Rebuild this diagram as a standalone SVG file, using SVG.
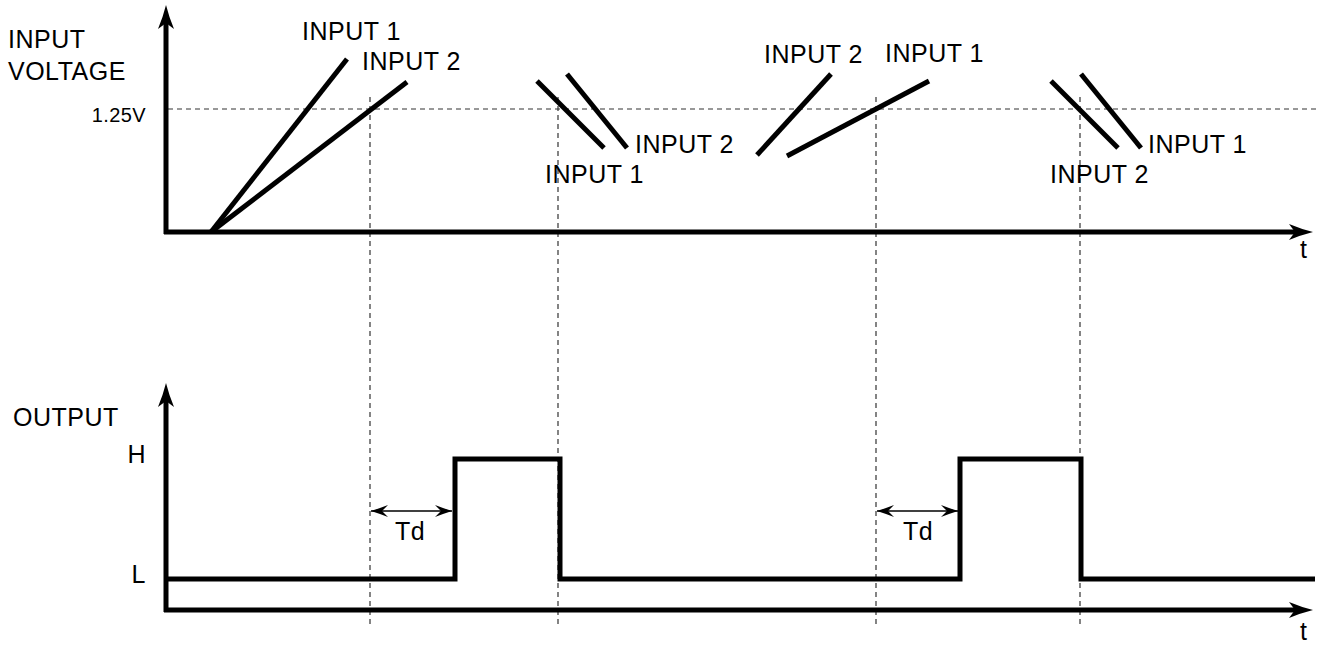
<svg xmlns="http://www.w3.org/2000/svg" width="1318" height="645" viewBox="0 0 1318 645">
  <style>
    .thick { stroke: #000; stroke-width: 5; fill: none; stroke-linejoin: miter; stroke-linecap: butt; }
    .dash { stroke: #333; stroke-width: 1.2; fill: none; stroke-dasharray: 5 4; }
    .thin { stroke: #000; stroke-width: 1.5; fill: none; }
    text { font-family: "Liberation Sans", Arial, sans-serif; font-size: 25px; fill: #000; letter-spacing: 0.5px; }
    .small { font-size: 20px; letter-spacing: 0.4px; }
  </style>
  <defs>
    <marker id="axhead" markerUnits="userSpaceOnUse" markerWidth="30" markerHeight="20" viewBox="0 -10 30 20" refX="6" refY="0" orient="auto">
      <path d="M0,-8 Q12,-3 24,0 Q12,3 0,8 L6,0 Z" fill="#000"/>
    </marker>
    <marker id="tdEnd" markerUnits="userSpaceOnUse" markerWidth="20" markerHeight="14" viewBox="-18 -7 20 14" refX="0" refY="0" orient="auto">
      <path d="M0,0 Q-8,-2.5 -17,-6 L-11,0 L-17,6 Q-8,2.5 0,0 Z" fill="#000"/>
    </marker>
    <marker id="tdStart" markerUnits="userSpaceOnUse" markerWidth="20" markerHeight="14" viewBox="-2 -7 20 14" refX="0" refY="0" orient="auto">
      <path d="M0,0 Q8,-2.5 17,-6 L11,0 L17,6 Q8,2.5 0,0 Z" fill="#000"/>
    </marker>
  </defs>
  <rect width="1318" height="645" fill="#fff"/>

  <g id="guides">
    <line class="dash" x1="168" y1="109" x2="1318" y2="109"/>
    <line class="dash" x1="370" y1="97" x2="370" y2="625"/>
    <line class="dash" x1="558" y1="97" x2="558" y2="625"/>
    <line class="dash" x1="876" y1="97" x2="876" y2="625"/>
    <line class="dash" x1="1080" y1="97" x2="1080" y2="625"/>
  </g>

  <g id="input-axes">
    <line class="thick" x1="166" y1="234" x2="166" y2="23" marker-end="url(#axhead)"/>
    <line class="thick" x1="164" y1="232" x2="1295" y2="232" marker-end="url(#axhead)"/>
  </g>

  <g id="output-axes">
    <line class="thick" x1="166" y1="612" x2="166" y2="401" marker-end="url(#axhead)"/>
    <line class="thick" x1="164" y1="610" x2="1295" y2="610" marker-end="url(#axhead)"/>
  </g>

  <g id="input-waveforms">
    <line class="thick" x1="211" y1="232" x2="347" y2="59"/>
    <line class="thick" x1="211" y1="232" x2="407" y2="82"/>
    <line class="thick" x1="537" y1="81" x2="604" y2="148"/>
    <line class="thick" x1="567" y1="74" x2="627" y2="148"/>
    <line class="thick" x1="831" y1="74" x2="757" y2="155"/>
    <line class="thick" x1="787" y1="156" x2="929" y2="81"/>
    <line class="thick" x1="1051" y1="81" x2="1118" y2="148"/>
    <line class="thick" x1="1081" y1="74" x2="1141" y2="148"/>
  </g>

  <g id="output-waveform">
    <polyline class="thick" points="168,579 455,579 455,459 560,459 560,579 960,579 960,459 1081,459 1081,579 1315,579"/>
  </g>

  <g id="td-arrows">
    <line class="thin" x1="371" y1="511" x2="452" y2="511" marker-start="url(#tdStart)" marker-end="url(#tdEnd)"/>
    <line class="thin" x1="877" y1="511" x2="958" y2="511" marker-start="url(#tdStart)" marker-end="url(#tdEnd)"/>
  </g>

  <g id="labels">
    <text x="8" y="48">INPUT</text>
    <text x="8" y="80">VOLTAGE</text>
    <text class="small" x="146" y="122" text-anchor="end">1.25V</text>
    <text x="302" y="40">INPUT 1</text>
    <text x="362" y="70">INPUT 2</text>
    <text x="635" y="153">INPUT 2</text>
    <text x="545" y="183">INPUT 1</text>
    <text x="764" y="63">INPUT 2</text>
    <text x="885" y="62">INPUT 1</text>
    <text x="1148" y="153">INPUT 1</text>
    <text x="1050" y="183">INPUT 2</text>
    <text x="1300" y="258">t</text>
    <text x="1300" y="640">t</text>
    <text x="13" y="426">OUTPUT</text>
    <text x="146" y="463" text-anchor="end">H</text>
    <text x="146" y="583" text-anchor="end">L</text>
    <text x="410" y="540" text-anchor="middle">Td</text>
    <text x="918" y="540" text-anchor="middle">Td</text>
  </g>
</svg>
